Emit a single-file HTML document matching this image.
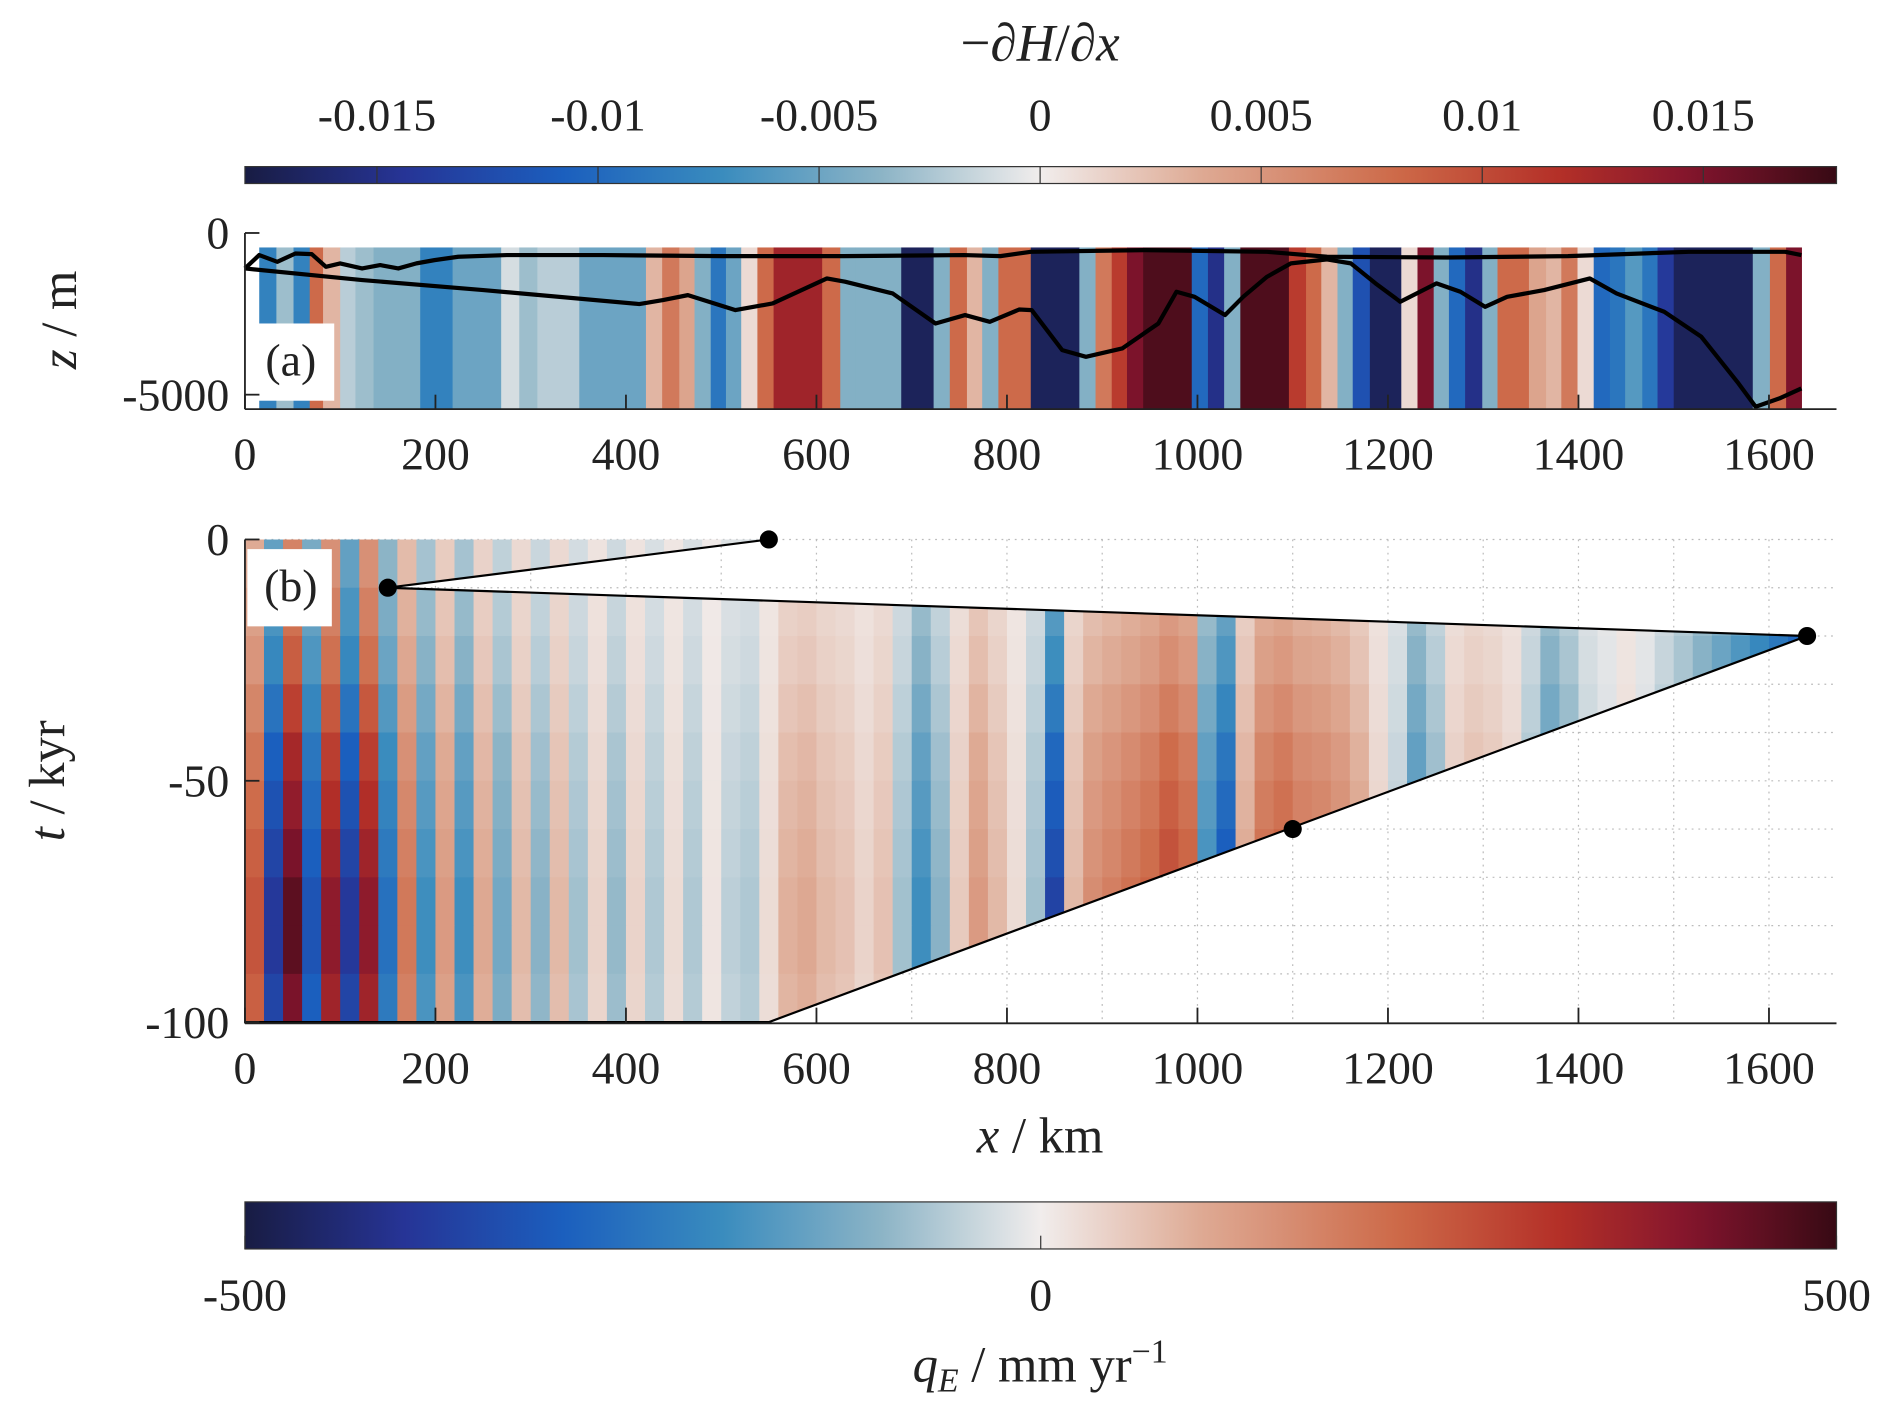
<!DOCTYPE html>
<html><head><meta charset="utf-8">
<style>
html,body{margin:0;padding:0;background:#fff;}
svg{display:block;}
text{font-family:"Liberation Serif","DejaVu Serif",serif;fill:#222;}
</style></head>
<body>
<svg id="fig" width="1892" height="1418" viewBox="0 0 1568 1175" xmlns="http://www.w3.org/2000/svg">
<defs>
<clipPath id="clipB"><polygon id="clipPoly" points=""/></clipPath>
<linearGradient id="cbGrad" x1="0" x2="1" y1="0" y2="0"></linearGradient>
</defs>
<g id="topcb"></g>
<g id="panelA"></g>
<g id="panelB"></g>
<g id="botcb"></g>
</svg>
<script>
// ---------- data ----------
const gradTicks = [-0.015,-0.01,-0.005,0,0.005,0.01,0.015];
const gradTickLabels = ["-0.015","-0.01","-0.005","0","0.005","0.01","0.015"];
const xTicks = [0,200,400,600,800,1000,1200,1400,1600];
const zTicks = [0,-5000];
const tTicks = [0,-50,-100];
const qTicks = [-500,0,500];
// stripe boundaries (km) and gradient values for panel (a)
const stripeEdges = [15,33,51,68,82,100,116,135,184,218,269,288,307,351,421,438,456,472,489,505,521,538,555,606,625,641,689,723,740,758,774,791,825,876,893,910,926,943,994,1011,1028,1045,1096,1114,1130,1147,1163,1181,1214,1231,1248,1264,1281,1299,1315,1348,1366,1382,1399,1416,1433,1449,1467,1483,1500,1583,1601,1618,1634];
const stripeVals = [-0.008,-0.003,-0.008,0.008,0.003,-0.002,-0.003,-0.004,-0.008,-0.005,-0.001,-0.003,-0.002,-0.005,0.003,0.007,0.004,-0.004,-0.009,-0.005,0.001,0.008,0.013,0.008,-0.004,-0.004,-0.017,-0.004,0.008,0.003,-0.004,0.008,-0.017,-0.004,0.007,0.011,0.015,0.017,-0.010,-0.015,-0.004,0.017,0.011,0.008,0.003,-0.004,-0.012,-0.017,0.001,0.015,-0.004,-0.010,-0.015,-0.004,0.008,0.004,0.003,0.007,0.001,-0.010,-0.009,-0.006,-0.009,-0.014,-0.017,-0.004,0.008,0.015];
// upper line (km, depth m)
const upperX = [0,15,34,53,70,85,100,123,142,161,180,199,224,275,376,502,629,755,793,825,946,1073,1136,1262,1389,1516,1617,1634];
const upperD = [1096,684,890,633,653,1045,942,1096,993,1096,942,839,736,684,684,715,715,684,715,581,530,581,736,756,715,581,581,684];
// lower line (km, depth m)
const lowerX = [0,123,250,414,439,465,515,554,611,630,680,725,756,782,813,826,858,883,921,959,978,997,1029,1048,1073,1098,1136,1161,1187,1213,1251,1276,1302,1325,1364,1412,1440,1490,1529,1568,1586,1611,1634];
const lowerD = [1096,1457,1766,2199,2076,1921,2385,2179,1406,1509,1870,2797,2539,2746,2364,2385,3622,3828,3570,2797,1818,1973,2539,1973,1354,942,818,942,1560,2127,1560,1818,2282,1973,1766,1406,1870,2436,3210,4652,5374,5116,4807];
// panel (b) heatmap: column values (mm/yr), 20 km bins from 0 km, and row scale per 10 kyr
const colVals = [200,-300,350,-250,300,-300,300,-200,150,-150,100,-150,80,-100,60,-80,60,-60,30,-70,30,-50,20,-50,10,-40,-50,20,70,80,60,50,30,50,-60,-150,-80,40,100,60,20,-60,-280,60,120,140,160,180,220,190,-150,-250,80,170,190,160,150,130,90,30,-40,-150,-80,40,60,50,30,-60,-150,-100,-40,-20,20,-20,-60,-100,-150,-200,-250,-300,-350,-400];
const rowScale = [0.5,0.6,0.7,0.85,1.0,1.1,1.2,1.3,1.3,1.2];
// ice-margin outline (km, kyr) and markers
const outlineX = [0,550,150,1640,550,0];
const outlineT = [0,0,-10,-20,-100,-100];
const markX = [550,150,1640,1100];
const markT = [0,-10,-20,-60];

// ---------- helpers ----------
const NS="http://www.w3.org/2000/svg";
function mk(tag,attrs,parent){const e=document.createElementNS(NS,tag);for(const k in attrs)e.setAttribute(k,attrs[k]);if(parent)parent.appendChild(e);return e;}
const stops=[[-1,[24,28,67]],[-0.8,[38,52,150]],[-0.6,[27,95,190]],[-0.4,[58,140,190]],[-0.2,[140,180,198]],[0,[241,237,236]],[0.2,[222,170,148]],[0.45,[205,105,72]],[0.65,[180,48,40]],[0.82,[130,20,45]],[1,[55,10,20]]];
function cmap(v){v=Math.max(-1,Math.min(1,v));for(let i=0;i<stops.length-1;i++){const a=stops[i],b=stops[i+1];if(v<=b[0]){const f=(v-a[0])/(b[0]-a[0]);const c=a[1].map((x,j)=>Math.round(x+(b[1][j]-x)*f));return `rgb(${c[0]},${c[1]},${c[2]})`;}}return 'rgb(55,10,20)';}
const X0=203,X1=1522;
const xKm=km=>X0+km*0.7894;
const yZ=d=>193+d*0.0268;
const yT=t=>447+(-t)*4.0;
const xGrad=g=>862+g*36640;
const xQ=q=>203+(q+500)/1000*(1522-203);

const grad=document.getElementById('cbGrad');
for(let i=0;i<=40;i++){const v=-1+i/20;mk('stop',{offset:(i/40),'stop-color':cmap(v)},grad);}

// ---------- top colorbar ----------
const tc=document.getElementById('topcb');
let t=mk('text',{x:862,y:50,'font-size':44,'text-anchor':'middle','font-style':'italic'},tc);


t.innerHTML='<tspan font-style="normal">−∂</tspan>H<tspan font-style="normal">/∂</tspan>x';
let r=mk('rect',{x:X0,y:138,width:X1-X0,height:14,fill:'url(#cbGrad)',stroke:'#333','stroke-width':1},tc);


gradTicks.forEach((g,i)=>{
  const x=xGrad(g);
  mk('line',{x1:x,x2:x,y1:138,y2:152,stroke:'#333','stroke-width':1},tc);
  const l=mk('text',{x:x,y:108,'font-size':38,'text-anchor':'middle'},tc);
  
  
  l.textContent=gradTickLabels[i];
});

// ---------- panel a ----------
const pa=document.getElementById('panelA');
for(let i=0;i<stripeVals.length;i++){
  const s=mk('rect',{x:xKm(stripeEdges[i]),y:205,width:xKm(stripeEdges[i+1])-xKm(stripeEdges[i])+0.5,height:339-205,fill:cmap(stripeVals[i]/0.018)},pa);
  
  
}
function linePath(xs,ds){return xs.map((x,i)=>(i?'L':'M')+xKm(x).toFixed(1)+','+yZ(ds[i]).toFixed(1)).join('');}
let p=mk('path',{d:linePath(upperX,upperD),fill:'none',stroke:'#000','stroke-width':3.5,'stroke-linejoin':'round'},pa);


p=mk('path',{d:linePath(lowerX,lowerD),fill:'none',stroke:'#000','stroke-width':3.5,'stroke-linejoin':'round'},pa);


let ba=mk('rect',{x:207,y:268,width:70,height:64,fill:'#fff'},pa);


let la=mk('text',{x:241,y:311,'font-size':38,'text-anchor':'middle'},pa);


la.textContent='(a)';
mk('line',{x1:X0,x2:X1,y1:339,y2:339,stroke:'#222','stroke-width':1.5},pa);
mk('line',{x1:X0,x2:X0,y1:193,y2:339,stroke:'#222','stroke-width':1.5},pa);
zTicks.forEach(z=>{const y=193+(-z)*0.0268;mk('line',{x1:X0,x2:X0+12,y1:y,y2:y,stroke:'#222','stroke-width':1.5},pa);
  const l=mk('text',{x:190,y:y+13,'font-size':38,'text-anchor':'end'},pa);
  
  
  l.textContent=String(z);});
xTicks.forEach(k=>{const x=xKm(k);mk('line',{x1:x,x2:x,y1:339,y2:327,stroke:'#222','stroke-width':1.5},pa);
  const l=mk('text',{x:x,y:389,'font-size':38,'text-anchor':'middle'},pa);
  
  
  l.textContent=String(k);});
let ya=mk('text',{x:0,y:0,'font-size':42,'text-anchor':'middle',transform:'translate(63,265) rotate(-90)'},pa);


ya.innerHTML='<tspan font-style="italic">z</tspan> / m';

// ---------- panel b ----------
const pb=document.getElementById('panelB');
for(let k=100;k<=1600;k+=100){const x=xKm(k);mk('line',{x1:x,x2:x,y1:447,y2:847,stroke:'#bbb','stroke-width':1,'stroke-dasharray':'1.5 4'},pb);}
for(let tt=0;tt>-100;tt-=10){const y=yT(tt);mk('line',{x1:X0,x2:X1,y1:y,y2:y,stroke:'#bbb','stroke-width':1,'stroke-dasharray':'1.5 4'},pb);}
document.getElementById('clipPoly').setAttribute('points',outlineX.map((x,i)=>xKm(x)+','+yT(outlineT[i])).join(' '));
const hm=mk('g',{'clip-path':'url(#clipB)'},pb);


for(let j=0;j<rowScale.length;j++){
  for(let i=0;i<colVals.length;i++){
    const c=mk('rect',{x:xKm(i*20),y:yT(-j*10),width:xKm(20)-xKm(0)+0.6,height:yT(-10)-yT(0)+0.6,fill:cmap(colVals[i]*rowScale[j]/500)},hm);
    
    
  }
}
let ol=mk('polyline',{points:outlineX.slice(1).map((x,i)=>xKm(x)+','+yT(outlineT[i+1])).join(' '),fill:'none',stroke:'#000','stroke-width':1.8},pb);


markX.forEach((x,i)=>{const c=mk('circle',{cx:xKm(x),cy:yT(markT[i]),r:7.5,fill:'#000'},pb);
  
  });
let bb=mk('rect',{x:205,y:455,width:70,height:64,fill:'#fff'},pb);


let lb=mk('text',{x:241,y:498,'font-size':38,'text-anchor':'middle'},pb);


lb.textContent='(b)';
mk('line',{x1:X0,x2:X1,y1:848,y2:848,stroke:'#222','stroke-width':1.5},pb);
mk('line',{x1:X0,x2:X0,y1:447,y2:848,stroke:'#222','stroke-width':1.5},pb);
tTicks.forEach(tt=>{const y=yT(tt);mk('line',{x1:X0,x2:X0+12,y1:y,y2:y,stroke:'#222','stroke-width':1.5},pb);
  const l=mk('text',{x:190,y:y+13,'font-size':38,'text-anchor':'end'},pb);
  
  
  l.textContent=String(tt);});
xTicks.forEach(k=>{const x=xKm(k);mk('line',{x1:x,x2:x,y1:848,y2:835,stroke:'#222','stroke-width':1.5},pb);
  const l=mk('text',{x:x,y:898,'font-size':38,'text-anchor':'middle'},pb);
  
  
  l.textContent=String(k);});
let yb=mk('text',{x:0,y:0,'font-size':42,'text-anchor':'middle',transform:'translate(53,647) rotate(-90)'},pb);


yb.innerHTML='<tspan font-style="italic">t</tspan> / kyr';
let xl=mk('text',{x:862,y:955,'font-size':42,'text-anchor':'middle'},pb);


xl.innerHTML='<tspan font-style="italic">x</tspan> / km';

// ---------- bottom colorbar ----------
const bc=document.getElementById('botcb');
let br=mk('rect',{x:X0,y:996,width:X1-X0,height:39,fill:'url(#cbGrad)',stroke:'#333','stroke-width':1},bc);


qTicks.forEach(q=>{const x=xQ(q);mk('line',{x1:x,x2:x,y1:1035,y2:1024,stroke:'#333','stroke-width':1},bc);
  const l=mk('text',{x:x,y:1086,'font-size':38,'text-anchor':'middle'},bc);
  
  
  l.textContent=String(q);});
let ql=mk('text',{x:862,y:1145,'font-size':42,'text-anchor':'middle'},bc);


ql.innerHTML='<tspan font-style="italic">q</tspan><tspan font-style="italic" font-size="28" dy="8">E</tspan><tspan dy="-8"> / mm yr</tspan><tspan font-size="28" dy="-16">−1</tspan>';
</script>
</body></html>
